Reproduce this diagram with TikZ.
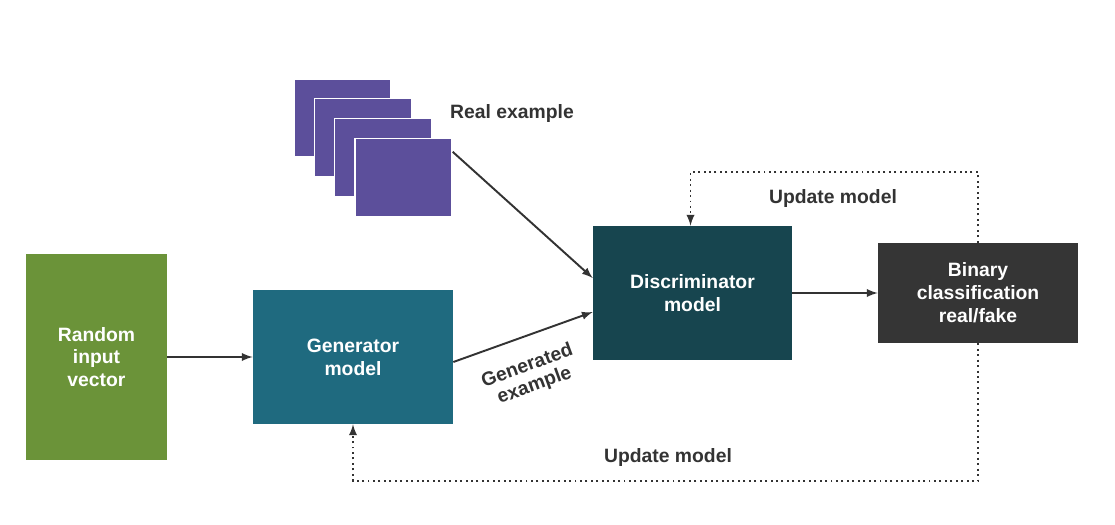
\documentclass[tikz,border=0pt]{standalone}
\usepackage{fontspec}
\setmainfont{Liberation Sans}
\usetikzlibrary{arrows,positioning}
\definecolor{gangreen}{RGB}{107,147,57}
\definecolor{genteal}{RGB}{31,106,127}
\definecolor{disteal}{RGB}{23,69,79}
\definecolor{bincol}{RGB}{53,53,53}
\definecolor{realpurple}{RGB}{92,79,155}
\definecolor{inkgray}{RGB}{51,51,51}
\tikzset{font=\bfseries\fontsize{11}{13}\selectfont}
\tikzset{block/.style={text=white, align=center, inner sep=0pt}}
\tikzset{sample/.style={fill=realpurple, draw=white, line width=.8pt, minimum width=1.94cm, minimum height=1.56cm, inner sep=0pt}}
\tikzset{flow/.style={-latex, line width=1.1pt, draw=inkgray}}
\tikzset{update/.style={-latex, dotted, line width=1.1pt, draw=inkgray}}

\begin{document}
\begin{tikzpicture}[x=0.02cm, y=-0.02cm]
  \useasboundingbox (0,0) rectangle (1115,524);

  \node[block, fill=gangreen, minimum width=2.82cm, minimum height=4.12cm] (random) at (96.5,357) {Random\\input\\vector};
  \node[block, fill=genteal, minimum width=4cm, minimum height=2.68cm] (generator) at (353,357) {Generator\\model};
  \node[block, fill=disteal, minimum width=3.98cm, minimum height=2.68cm] (discrim) at (692.5,293) {Discriminator\\model};
  \node[block, fill=bincol, minimum width=4cm, minimum height=2cm] (binary) at (978,293) {Binary\\classification\\real/fake};

  \foreach \i/\x/\y in {1/342.5/118, 2/363/137.5, 3/383/157.5, 4/403.5/177.5}
    \node[sample] (real\i) at (\x,\y) {};
  \node[text=inkgray] (reallabel) at (512,114) {Real example};

  \draw[flow] (random) -- (generator);
  \draw[flow] ([yshift=-0.28cm]real4.north east) -- ([yshift=0.3cm]discrim.west);
  \draw[flow] ([yshift=-0.1cm]generator.east) -- ([yshift=-0.38cm]discrim.west);
  \draw[flow] (discrim) -- (binary);

  \node[text=inkgray, align=center, rotate=20, font=\bfseries\fontsize{11}{12}\selectfont] (genlabel) at (531,376) {Generated\\example};

  \coordinate (topcorner) at (978,172);
  \coordinate (botcorner) at (978,481);
  \draw[update] (binary.north) -- (topcorner) -| ([xshift=-0.04cm]discrim.north);
  \draw[update] (binary.south) -- (botcorner) -| (generator.south);
  \node[text=inkgray] (toplabel) at (833,199) {Update model};
  \node[text=inkgray] (botlabel) at (668,457) {Update model};
\end{tikzpicture}
\end{document}
